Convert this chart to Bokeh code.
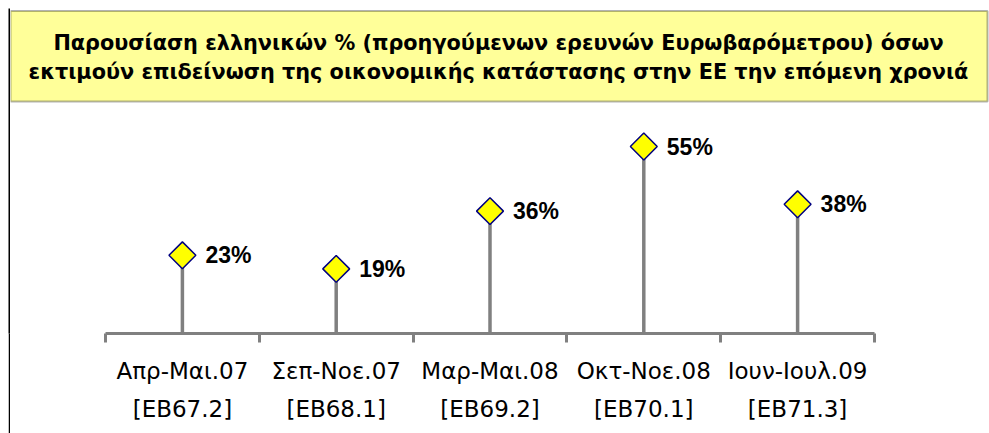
import math
from bokeh.plotting import figure
from bokeh.layouts import row
from bokeh.models import (BoxAnnotation, Label, FixedTicker, ColumnDataSource,
                          LinearAxis, Range1d)
from bokeh.embed import file_html
from bokeh.resources import INLINE
from bokeh.core.properties import value

# ---- data ----
periods = ["Απρ-Μαι.07", "Σεπ-Νοε.07", "Μαρ-Μαι.08", "Οκτ-Νοε.08", "Ιουν-Ιουλ.09"]
waves = ["[EB67.2]", "[EB68.1]", "[EB69.2]", "[EB70.1]", "[EB71.3]"]
values = [23, 19, 36, 55, 38]
title_lines = [
    "Παρουσίαση ελληνικών % (προηγούμενων ερευνών Ευρωβαρόμετρου) όσων",
    "εκτιμούν επιδείνωση της οικονομικής κατάστασης στην ΕΕ την επόμενη χρονιά",
]

n = len(periods)
idx = list(range(n))
src = ColumnDataSource(dict(
    x=idx,
    y=values,
    base=[0] * n,
    lab=[f"{v}%" for v in values],
))

# ---- geometry (pixels) ----
H = 425
W = 979
step = 153.8          # px per category
left_pad = 95         # frame left -> first category boundary
right_pad = 115       # last category boundary -> frame right
px_per_unit = 3.4
axis_h = 100
frame_h = H - axis_h

x_start = -0.5 - left_pad / step
x_end = n - 0.5 + right_pad / step

p = figure(width=W, height=H, x_range=Range1d(x_start, x_end),
           y_range=Range1d(0, frame_h / px_per_unit),
           output_backend="svg", toolbar_location=None,
           min_border_left=0, min_border_right=0, min_border_top=0,
           min_border_bottom=axis_h, x_axis_location=None, y_axis_location=None)
p.outline_line_color = None
p.grid.visible = False
p.background_fill_color = "white"
p.border_fill_color = "white"

xaxis = LinearAxis(
    ticker=FixedTicker(ticks=idx, minor_ticks=[i - 0.5 for i in range(n + 1)]),
    major_label_overrides={i: f"{periods[i]}\n{waves[i]}" for i in idx},
    bounds=(-0.5, n - 0.5),
)
xaxis.axis_line_color = "#808080"
xaxis.axis_line_width = 3
xaxis.major_tick_line_color = None
xaxis.major_tick_out = 9
xaxis.major_tick_in = 0
xaxis.minor_tick_line_color = "#808080"
xaxis.minor_tick_line_width = 3
xaxis.minor_tick_out = 9
xaxis.minor_tick_in = 0
xaxis.major_label_standoff = 15
xaxis.major_label_text_font = "DejaVu Sans"
xaxis.major_label_text_font_size = "23px"
xaxis.major_label_text_color = "black"
xaxis.major_label_text_line_height = 1.48
p.add_layout(xaxis, "below")

# title box (screen units are relative to the frame, y measured upward)
p.add_layout(BoxAnnotation(left=0, right=977, top=frame_h - 2.5, bottom=frame_h - 93,
                           left_units="screen", right_units="screen",
                           top_units="screen", bottom_units="screen",
                           fill_color="#FFFF99", fill_alpha=1,
                           line_color="black", line_width=2))
for i, t in enumerate(title_lines):
    p.add_layout(Label(x=488, y=frame_h - 34 - 29 * i, x_units="screen", y_units="screen",
                       text=t, text_align="center", text_baseline="alphabetic",
                       text_font="DejaVu Sans", text_font_style="bold",
                       text_font_size="20.8px", text_color="black"))

p.segment(x0="x", y0="base", x1="x", y1="y", source=src,
          line_color="#808080", line_width=3.5)
p.scatter(x="x", y="y", source=src, marker="square", size=19, angle=math.pi / 4,
          fill_color="#FFFF00", line_color="#000080", line_width=1.5)
p.text(x="x", y="y", text="lab", source=src, x_offset=23, text_baseline="middle",
       text_font=value("Liberation Sans"), text_font_style="bold",
       text_font_size="23px", text_color="black")

# left border strip
strip = figure(width=2, height=H, output_backend="svg", toolbar_location=None,
               min_border=0, x_axis_location=None, y_axis_location=None,
               background_fill_color="black", border_fill_color="black")
strip.outline_line_color = None
strip.grid.visible = False

layout = row(strip, p, spacing=0, margin=(8, 0, 0, 8))
open("out.html", "w").write(file_html(layout, INLINE))
